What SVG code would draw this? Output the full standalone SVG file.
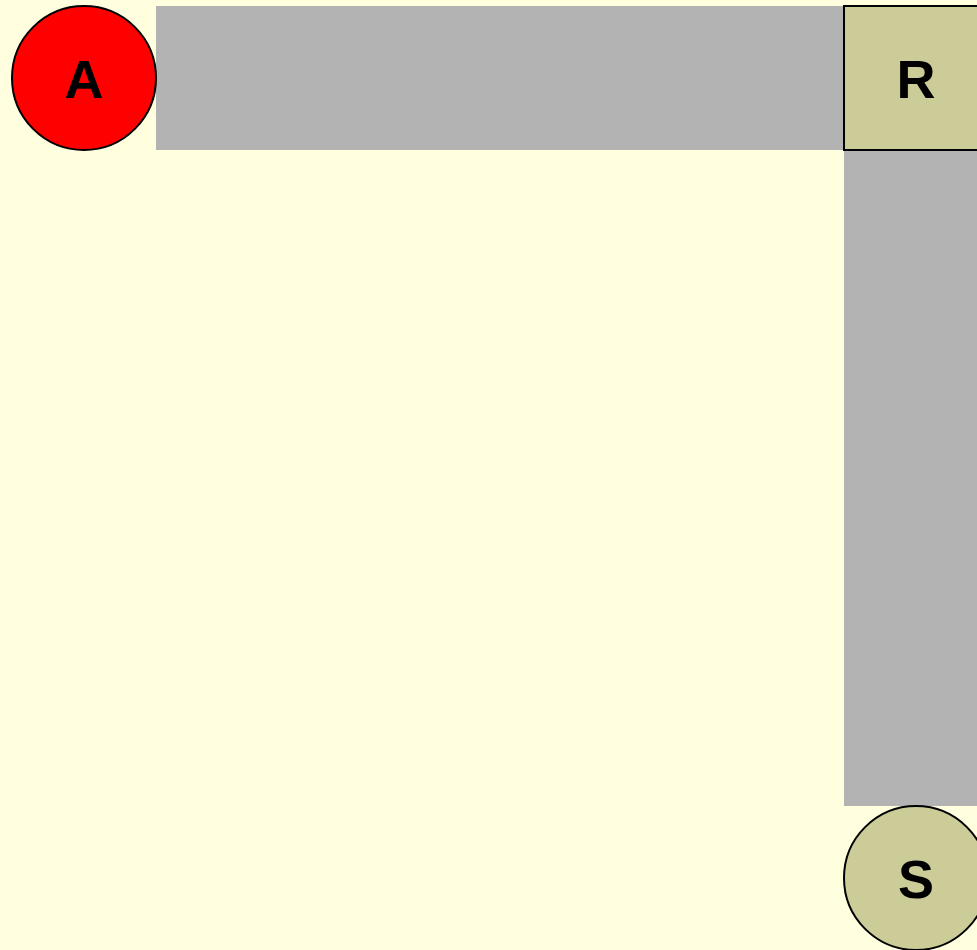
<svg xmlns="http://www.w3.org/2000/svg" width="977" height="950" viewBox="0 0 977 950">
<style>
.lbl{font-family:"Liberation Sans",Arial,sans-serif;font-weight:bold;font-size:54px;text-anchor:middle;fill:#000}
.edge{fill:#b3b3b3;stroke:none}
.node{stroke:#000;stroke-width:2}
</style>
<rect x="0" y="0" width="977" height="950" fill="#ffffe0"/>
<g id="connectors">
<rect class="edge" x="156" y="6" width="688" height="144"/>
<rect class="edge" x="844" y="150" width="144" height="656"/>
</g>
<g id="node-A">
<circle class="node" cx="84" cy="78" r="72" fill="#ff0000"/>
<text class="lbl" x="84" y="98">A</text>
</g>
<g id="node-R">
<rect class="node" x="844" y="6" width="144" height="144" fill="#cccc99"/>
<text class="lbl" x="916" y="98">R</text>
</g>
<g id="node-S">
<circle class="node" cx="916" cy="878" r="72" fill="#cccc99"/>
<text class="lbl" x="916" y="898">S</text>
</g>
</svg>
